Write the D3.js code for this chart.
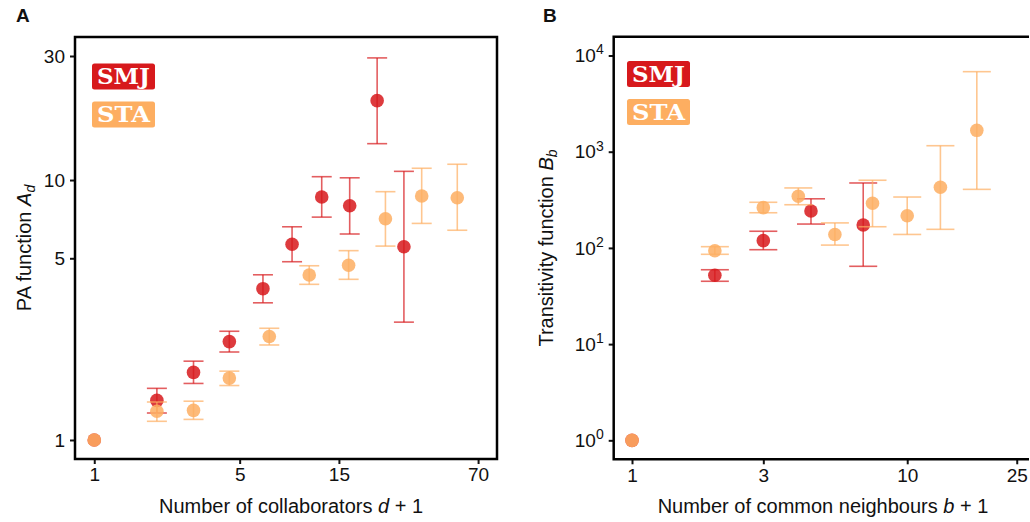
<!DOCTYPE html>
<html>
<head>
<meta charset="utf-8">
<script src="https://cdn.jsdelivr.net/npm/d3@7"></script>
<style>
  html, body { margin: 0; padding: 0; background: #fff; }
  svg { display: block; }
  text { font-family: "Liberation Sans", Arial, sans-serif; fill: #111; }
</style>
</head>
<body>
<svg id="chart" width="1030" height="522"></svg>
<script>
// ---- Panel A: preferential attachment function A_d ----
const paSmjX  = [1, 2.0, 3.0, 4.46, 6.47, 8.93, 12.4, 16.9, 22.9, 30.8];
const paSmjY  = [1, 1.42, 1.82, 2.39, 3.82, 5.66, 8.6, 7.96, 20.2, 5.54];
const paSmjLo = [null, 1.27, 1.65, 2.18, 3.37, 4.85, 7.2, 6.2, 13.8, 2.84];
const paSmjHi = [null, 1.58, 2.01, 2.62, 4.32, 6.61, 10.3, 10.2, 29.5, 10.8];

const paStaX  = [1, 2.0, 3.0, 4.46, 6.94, 10.8, 16.7, 25.1, 37.5, 55.6];
const paStaY  = [1, 1.29, 1.30, 1.73, 2.50, 4.31, 4.70, 7.10, 8.68, 8.55];
const paStaLo = [null, 1.18, 1.20, 1.62, 2.32, 3.97, 4.15, 5.57, 6.81, 6.41];
const paStaHi = [null, 1.40, 1.41, 1.84, 2.69, 4.68, 5.35, 9.02, 11.1, 11.5];

const paXTicks = [1, 5, 15, 70];
const paYTicks = [1, 5, 10, 30];

// ---- Panel B: transitivity function B_b ----
const trSmjX  = [1, 2, 3, 4.47, 6.92];
const trSmjY  = [1, 51.9, 119, 242, 173];
const trSmjLo = [null, 45.0, 95.8, 177, 64.4];
const trSmjHi = [null, 59.3, 149, 324, 473];

const trStaX  = [1, 2, 3, 4.02, 5.46, 7.48, 10, 13.2, 17.9];
const trStaY  = [1, 93.5, 262, 344, 138, 291, 216, 427, 1668];
const trStaLo = [null, 85.8, 232, 281, 107, 166, 138, 156, 406];
const trStaHi = [null, 103, 298, 420, 182, 505, 338, 1154, 6790];

const trXTicks = [1, 3, 10, 25];
const trYExp   = [0, 1, 2, 3, 4];

const seriesNames = ["SMJ", "STA"];
const colSMJ = "#d7191c";
const colSTA = "#fdae61";

const svg = d3.select("#chart");

function zip(xs, ys, lo, hi) {
  return xs.map((x, i) => ({ x, y: ys[i], lo: lo[i], hi: hi[i] }));
}

function drawPanel(cfg) {
  const g = svg.append("g");
  const { x, y } = cfg;
  const [x0, x1] = x.range();
  const [y0, y1] = y.range();

  // axes
  const yAxis = d3.axisLeft(y).tickValues(cfg.yTicks).tickSize(5).tickPadding(5)
    .tickFormat(d => d);
  const xAxis = d3.axisBottom(x).tickValues(cfg.xTicks).tickSize(5).tickPadding(4)
    .tickFormat(d => d);

  const ya = g.append("g").attr("transform", `translate(${x0},0)`).call(yAxis);
  const xa = g.append("g").attr("transform", `translate(0,${y0})`).call(xAxis);
  [ya, xa].forEach(a => {
    a.select(".domain").remove();
    a.selectAll(".tick line").attr("stroke", "#111").attr("stroke-width", 2);
    a.selectAll(".tick text").style("font-size", "19px").attr("fill", "#111")
      .style("font-family", '"Liberation Sans", Arial, sans-serif');
  });
  if (cfg.powerLabels) {
    ya.selectAll(".tick text").text(null).each(function(d) {
      const t = d3.select(this);
      t.append("tspan").text("10");
      t.append("tspan").attr("dy", "-0.55em").style("font-size", "14px").text(d3.format("d")(Math.log10(d)));
    });
  }

  // frame
  const frame = g.append("path").attr("fill", "none").attr("stroke", "#000").attr("stroke-width", 2.5);
  if (cfg.closeRight) {
    frame.attr("d", `M${x0},${y0}V${y1}H${x1}V${y0}Z`);
  } else {
    frame.attr("d", `M${x1},${y1}H${x0}V${y0}H${x1}`);
  }

  // series: error bars + points
  cfg.series.forEach(s => {
    const sg = g.append("g");
    const withErr = s.data.filter(d => d.lo != null);
    sg.selectAll("line.bar").data(withErr).join("line")
      .attr("x1", d => x(d.x)).attr("x2", d => x(d.x))
      .attr("y1", d => y(d.lo)).attr("y2", d => y(d.hi))
      .attr("stroke", s.color).attr("stroke-opacity", 0.7).attr("stroke-width", 1.6);
    ["lo", "hi"].forEach(k => {
      sg.selectAll("line.cap" + k).data(withErr).join("line")
        .attr("x1", d => x(d.x) - cfg.cap).attr("x2", d => x(d.x) + cfg.cap)
        .attr("y1", d => y(d[k])).attr("y2", d => y(d[k]))
        .attr("stroke", s.color).attr("stroke-opacity", 0.7).attr("stroke-width", 1.6);
    });
    sg.selectAll("circle").data(s.data).join("circle")
      .attr("cx", d => x(d.x)).attr("cy", d => y(d.y)).attr("r", 6.8)
      .attr("fill", s.color).attr("fill-opacity", 0.85);
  });

  // legend badges
  cfg.series.forEach((s, i) => {
    const by = cfg.legendY[i];
    g.append("rect").attr("x", cfg.legendX).attr("y", by).attr("width", 63).attr("height", 26)
      .attr("rx", 2.5).attr("fill", s.color);
    g.append("text").attr("x", cfg.legendX + 31.5).attr("y", by + 20.5)
      .attr("text-anchor", "middle")
      .attr("textLength", 53).attr("lengthAdjust", "spacingAndGlyphs")
      .style("font-family", '"DejaVu Serif", "Liberation Serif", serif')
      .style("font-weight", "bold").style("font-size", "22px")
      .style("fill", "#fff")
      .text(s.name);
  });

  // panel letter
  g.append("text").attr("x", cfg.letterX).attr("y", 22)
    .style("font-size", "19px").style("font-weight", "bold").text(cfg.letter);

  // x title
  const xt = g.append("text").attr("x", cfg.xTitleX).attr("y", 513)
    .attr("text-anchor", "middle").style("font-size", "20px");
  xt.append("tspan").text(cfg.xTitle + " ");
  xt.append("tspan").style("font-style", "italic").text(cfg.xVar);
  xt.append("tspan").text(" + 1");

  // y title
  const yt = g.append("text")
    .attr("transform", `translate(${cfg.yTitleX},${(y0 + y1) / 2}) rotate(-90)`)
    .attr("text-anchor", "middle").style("font-size", "20px");
  yt.append("tspan").text(cfg.yTitle + " ");
  yt.append("tspan").style("font-style", "italic").text(cfg.yVar);
  yt.append("tspan").attr("dy", "0.3em").style("font-style", "italic").style("font-size", "14px").text(cfg.ySub);
}

// Panel A scales (log-log)
const xA = d3.scaleLog().domain([0.808, 86.3]).range([75, 497]);
const yA = d3.scaleLog().domain([0.845, 35.5]).range([459, 37]);

drawPanel({
  x: xA, y: yA, xTicks: paXTicks, yTicks: paYTicks, cap: 10, closeRight: true,
  series: [
    { name: seriesNames[0], color: colSMJ, data: zip(paSmjX, paSmjY, paSmjLo, paSmjHi) },
    { name: seriesNames[1], color: colSTA, data: zip(paStaX, paStaY, paStaLo, paStaHi) }
  ],
  legendX: 92, legendY: [63.5, 101.5],
  letter: "A", letterX: 16,
  xTitle: "Number of collaborators", xVar: "d", xTitleX: 291,
  yTitle: "PA function", yVar: "A", ySub: "d", yTitleX: 31
});

// Panel B scales (log-log)
const xB = d3.scaleLog().domain([0.858, 27.7]).range([613.7, 1029]);
const yB = d3.scaleLog().domain([0.635, 15680]).range([459.3, 36.7]);

drawPanel({
  x: xB, y: yB, xTicks: trXTicks, yTicks: trYExp.map(e => Math.pow(10, e)), cap: 14,
  closeRight: false, powerLabels: true,
  series: [
    { name: seriesNames[0], color: colSMJ, data: zip(trSmjX, trSmjY, trSmjLo, trSmjHi) },
    { name: seriesNames[1], color: colSTA, data: zip(trStaX, trStaY, trStaLo, trStaHi) }
  ],
  legendX: 627, legendY: [61, 99],
  letter: "B", letterX: 543,
  xTitle: "Number of common neighbours", xVar: "b", xTitleX: 823,
  yTitle: "Transitivity function", yVar: "B", ySub: "b", yTitleX: 553
});
</script>
</body>
</html>
